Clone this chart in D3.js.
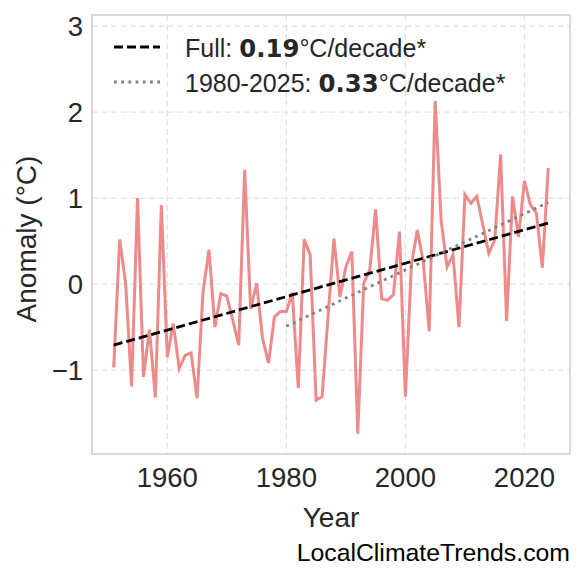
<!DOCTYPE html>
<meta charset="utf-8">
<script src="https://d3js.org/d3.v7.min.js"></script>
<style>
  body { margin: 0; background: #fff; }
  svg { display: block; }
</style>
<svg id="chart" width="585" height="581"></svg>
<script>
"use strict"

// anomaly series
var years = d3.range(1951, 2025)
var anomaly = [
  -0.97, 0.52, 0.01, -1.19, 1.00, -1.08, -0.53, -1.32, 0.92, -0.85,
  -0.46, -0.98, -0.83, -0.80, -1.33, -0.09, 0.40, -0.50, -0.11, -0.14,
  -0.42, -0.71, 1.33, -0.29, 0.01, -0.63, -0.92, -0.38, -0.32, -0.32,
  -0.10, -1.21, 0.52, 0.34, -1.35, -1.31, -0.38, 0.53, -0.15, 0.20,
  0.38, -1.74, 0.01, 0.16, 0.87, -0.17, -0.19, -0.12, 0.61, -1.31,
  0.22, 0.63, 0.26, -0.55, 2.13, 0.74, 0.20, 0.34, -0.50, 1.04,
  0.94, 1.02, 0.69, 0.36, 0.51, 1.51, -0.43, 1.02, 0.55, 1.20,
  0.92, 0.83, 0.19, 1.35
]

// trend lines (end points)
var fullTrendYears = [1951, 2024]
var fullTrendVals = [-0.71, 0.71]
var recentTrendYears = [1980, 2024]
var recentTrendVals = [-0.49, 0.95]

var legendLabels = ["Full: ", "1980-2025: "]
var legendRates = ["0.19", "0.33"]

var xTicks = [1960, 1980, 2000, 2020]
var yTicks = [-1, 0, 1, 2, 3]
var yTickLabels = ["\u22121", "0", "1", "2", "3"]

var box = {left: 92, right: 570, top: 15, bottom: 454}
var sans = "'Liberation Sans', Arial, sans-serif"

var svg = d3.select("#chart")

var x = d3.scaleLinear().domain([1947.35, 2027.65]).range([box.left, box.right])
var y = d3.scaleLinear().domain([-1.977, 3.131]).range([box.bottom, box.top])

// grid
svg.append("g").selectAll("line").data(xTicks).enter().append("line")
    .attr("x1", d => x(d)).attr("x2", d => x(d))
    .attr("y1", box.top).attr("y2", box.bottom)
    .attr("stroke", "#e3e3e3").attr("stroke-width", 1.3).attr("stroke-dasharray", "6,3.5")
svg.append("g").selectAll("line").data(yTicks).enter().append("line")
    .attr("x1", box.left).attr("x2", box.right)
    .attr("y1", d => y(d)).attr("y2", d => y(d))
    .attr("stroke", "#e3e3e3").attr("stroke-width", 1.3).attr("stroke-dasharray", "6,3.5")

// tick labels
svg.append("g").selectAll("text").data(xTicks).enter().append("text")
    .attr("x", d => x(d)).attr("y", box.bottom + 33)
    .attr("text-anchor", "middle")
    .style("font", "27.5px " + sans).attr("fill", "#262626")
    .text(d => d)
svg.append("g").selectAll("text").data(yTicks).enter().append("text")
    .attr("x", box.left - 9).attr("y", d => y(d)).attr("dy", "0.36em")
    .attr("text-anchor", "end")
    .style("font", "27.5px " + sans).attr("fill", "#262626")
    .text((d, i) => yTickLabels[i])

// axis labels
svg.append("text")
    .attr("x", (box.left + box.right) / 2).attr("y", 527)
    .attr("text-anchor", "middle")
    .style("font", "28px " + sans).attr("fill", "#262626")
    .text("Year")
svg.append("text")
    .attr("transform", "translate(36,239) rotate(-90)")
    .attr("text-anchor", "middle")
    .style("font", "28px " + sans).attr("fill", "#262626")
    .text("Anomaly (°C)")

// watermark
svg.append("text")
    .attr("x", 570).attr("y", 561)
    .attr("text-anchor", "end")
    .style("font", "24.8px " + sans).attr("fill", "#000")
    .text("LocalClimateTrends.com")

// clip to axes
svg.append("clipPath").attr("id", "clip").append("rect")
    .attr("x", box.left).attr("y", box.top)
    .attr("width", box.right - box.left).attr("height", box.bottom - box.top)
var plot = svg.append("g").attr("clip-path", "url(#clip)")

var line = d3.line().x(d => x(d[0])).y(d => y(d[1]))

plot.append("path")
    .datum(years.map((yr, i) => [yr, anomaly[i]]))
    .attr("d", line)
    .attr("fill", "none").attr("stroke", "#ee8a8a").attr("stroke-width", 3)
    .attr("stroke-linejoin", "miter")

plot.append("path")
    .datum(fullTrendYears.map((yr, i) => [yr, fullTrendVals[i]]))
    .attr("d", line)
    .attr("fill", "none").attr("stroke", "#000").attr("stroke-width", 2.8)
    .attr("stroke-dasharray", "9,4")

plot.append("path")
    .datum(recentTrendYears.map((yr, i) => [yr, recentTrendVals[i]]))
    .attr("d", line)
    .attr("fill", "none").attr("stroke", "#808080").attr("stroke-width", 2.8)
    .attr("stroke-dasharray", "2.8,4.4")

// spines
svg.append("rect")
    .attr("x", box.left).attr("y", box.top)
    .attr("width", box.right - box.left).attr("height", box.bottom - box.top)
    .attr("fill", "none").attr("stroke", "#cccccc").attr("stroke-width", 1.5)

// legend
var legendY = [47, 82]
var legendStyles = [
  {stroke: "#000", dash: "9,4"},
  {stroke: "#808080", dash: "2.8,4.4"}
]
var leg = svg.append("g")
legendLabels.forEach(function(lbl, i) {
  leg.append("line")
      .attr("x1", 114).attr("x2", 160)
      .attr("y1", legendY[i]).attr("y2", legendY[i])
      .attr("stroke", legendStyles[i].stroke).attr("stroke-width", 2.8)
      .attr("stroke-dasharray", legendStyles[i].dash)
  var t = leg.append("text")
      .attr("x", 185).attr("y", legendY[i] + 9.5)
      .style("font", "25px " + sans).attr("fill", "#262626")
  t.append("tspan").text(lbl)
  t.append("tspan").style("font", "bold 24.4px 'DejaVu Sans', sans-serif").text(legendRates[i])
  t.append("tspan").text("°C/decade*")
})
</script>
